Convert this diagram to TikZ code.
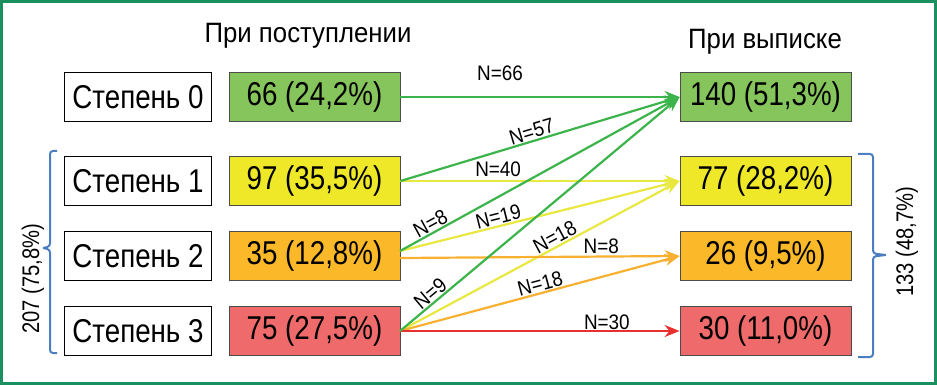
\documentclass[tikz,border=0pt]{standalone}
\usepackage{fontspec}
\setmainfont[FakeStretch=0.84]{Liberation Sans}
\newfontfamily\hfont[FakeStretch=0.92]{Liberation Sans}
\newfontfamily\nfont[FakeStretch=0.9]{Liberation Sans}
\usetikzlibrary{arrows.meta}
\definecolor{frameg}{HTML}{1A9060}
\definecolor{boxg}{HTML}{86C55C}
\definecolor{boxy}{HTML}{EEE828}
\definecolor{boxo}{HTML}{FBB829}
\definecolor{boxr}{HTML}{EF6B6B}
\definecolor{ag}{HTML}{3CB44B}
\definecolor{ay}{HTML}{E8E840}
\definecolor{ao}{HTML}{F8B030}
\definecolor{ar}{HTML}{E83030}
\definecolor{brc}{HTML}{4A7EC0}
\tikzset{
  lbox/.style={draw=black, line width=1pt, minimum width=147pt, minimum height=49pt, inner sep=0pt, font=\fontsize{33}{36}\selectfont, anchor=center},
  vbox/.style={draw=black!70, line width=0.8pt, minimum width=171pt, minimum height=49pt, inner sep=0pt, font=\fontsize{33}{36}\selectfont, anchor=center},
  flow/.style={line width=2.2pt, -{Stealth[length=15pt,width=12pt]}},
  nlab/.style={font=\nfont\fontsize{21}{23}\selectfont, inner sep=1pt},
  brace/.style={draw=brc, line width=2pt, rounded corners=3pt},
  head/.style={font=\hfont\fontsize{28}{30}\selectfont},
  blab/.style={font=\fontsize{24}{26}\selectfont, rotate=90},
}
\begin{document}
\begin{tikzpicture}[x=1pt,y=-1pt]
\useasboundingbox (0,0) rectangle (937,385);
\draw[frameg, line width=3pt] (1.5,1.5) rectangle (935.5,383.5);
\node[head] (h1) at (308,36) {При поступлении};
\node[head] (h2) at (765,42) {При выписке};
% left boxes
\node[lbox] (s0) at (138,97) {Степень 0};
\node[lbox] (s1) at (138,181) {Степень 1};
\node[lbox] (s2) at (138,256) {Степень 2};
\node[lbox] (s3) at (138,331) {Степень 3};
\node[vbox, fill=boxg] (a0) at (314.5,97) {66 (24,2\%)};
\node[vbox, fill=boxy] (a1) at (314.5,181) {97 (35,5\%)};
\node[vbox, fill=boxo] (a2) at (314.5,256) {35 (12,8\%)};
\node[vbox, fill=boxr] (a3) at (314.5,331) {75 (27,5\%)};
\node[vbox, fill=boxg] (b0) at (765.5,97) {140 (51,3\%)};
\node[vbox, fill=boxy] (b1) at (765.5,181) {77 (28,2\%)};
\node[vbox, fill=boxo] (b2) at (765.5,256) {26 (9,5\%)};
\node[vbox, fill=boxr] (b3) at (765.5,331) {30 (11,0\%)};
% anchor coordinates
\coordinate (o2a) at (400,251);
\coordinate (o2b) at (400,258);
\coordinate (o3) at (400,331);
% flows
\draw[flow, ag] (a0.east) -- (b0.west);
\node[nlab] (n66) at (500,73) {N=66};
\draw[flow, ay] (a1.east) -- (b1.west) node[nlab, pos=0.35, above=2pt, text=black] {N=40};
\draw[flow, ay] (o2a) -- (b1.west) node[nlab, pos=0.36, sloped, above=0pt, text=black] {N=19};
\draw[flow, ay] (o3) -- (b1.west) node[nlab, pos=0.57, sloped, above=0pt, text=black] {N=18};
\draw[flow, ao] (o2b) -- (b2.west) node[nlab, pos=0.72, above=1pt, text=black] {N=8};
\draw[flow, ao] (o3) -- (b2.west) node[nlab, pos=0.51, sloped, above=0pt, text=black] {N=18};
\draw[flow, ar] (o3) -- (b3.west) node[nlab, pos=0.74, above=-1pt, text=black] {N=30};
\draw[flow, ag] (a1.east) -- (b0.west) node[nlab, pos=0.48, sloped, above=0pt, text=black] {N=57};
\draw[flow, ag] (o2a) -- (b0.west) node[nlab, pos=0.125, sloped, above=0pt, text=black] {N=8};
\draw[flow, ag] (o3) -- (b0.west) node[nlab, pos=0.13, sloped, above=0pt, text=black] {N=9};
% braces
\draw[brace] (57,151) -- (50,151) -- (50,246.5) -- (43,248);
\draw[brace] (43,248) -- (50,249.5) -- (50,353) -- (57,353);
\draw[brace] (858,154) -- (873,154) -- (873,253.5) -- (886,255);
\draw[brace] (886,255) -- (873,256.5) -- (873,357) -- (858,357);
\node[blab] (l1) at (33,279) {207 (75,8\%)};
\node[blab] (l2) at (907,242) {133 (48,7\%)};
\end{tikzpicture}
\end{document}
